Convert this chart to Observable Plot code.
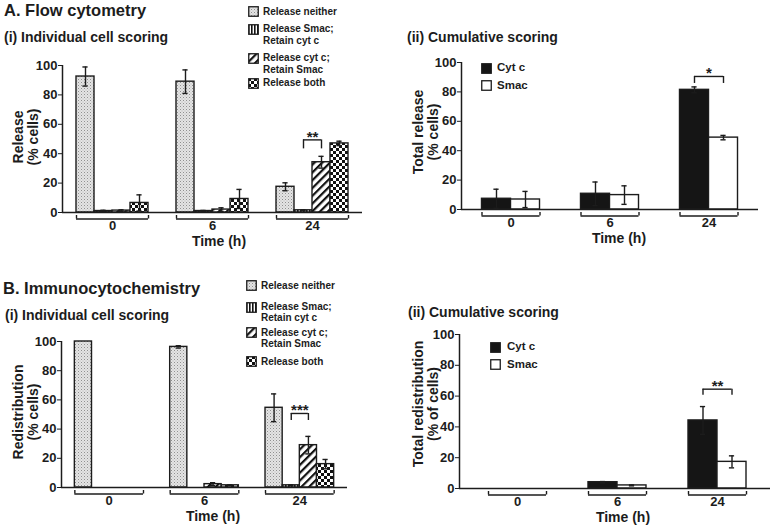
<!DOCTYPE html>
<html><head><meta charset="utf-8">
<script src="https://cdn.jsdelivr.net/npm/d3@7"></script>
<script src="https://cdn.jsdelivr.net/npm/@observablehq/plot@0.6"></script>
<style>
body{margin:0;background:#fff;}
#fig{position:relative;width:773px;height:527px;overflow:hidden;font-family:"Liberation Sans",Arial,sans-serif;font-weight:bold;color:#1c1c1c;}
.t{position:absolute;white-space:nowrap;line-height:1;}
.c{position:absolute;white-space:nowrap;line-height:1;transform:translate(-50%,-50%);}
.l{position:absolute;white-space:nowrap;line-height:1;transform:translate(0,-50%);}
.panel{position:absolute;}
.panel svg{overflow:visible;}
.ylab{position:absolute;transform:translate(-50%,-50%) rotate(-90deg);text-align:center;font-size:14px;line-height:15px;white-space:nowrap;}
.sw{position:absolute;}
</style>
</head><body>
<svg width="0" height="0" style="position:absolute">
<defs>
<pattern id="p-neither" width="3" height="3" patternUnits="userSpaceOnUse">
<rect width="3" height="3" fill="#e4e4e4"/><rect width="1" height="1" fill="#909090"/><rect x="1.5" y="1.5" width="1" height="1" fill="#b4b4b4"/>
</pattern>
<pattern id="p-smac" width="3" height="3" patternUnits="userSpaceOnUse">
<rect width="3" height="3" fill="#fff"/><rect width="1.6" height="3" fill="#111"/>
</pattern>
<pattern id="p-cytc" width="5.5" height="5.5" patternUnits="userSpaceOnUse" patternTransform="rotate(45)">
<rect width="5.5" height="5.5" fill="#fff"/><rect width="2.2" height="5.5" fill="#111"/>
</pattern>
<pattern id="p-both" width="6" height="6" patternUnits="userSpaceOnUse">
<rect width="6" height="6" fill="#fff"/><rect width="3" height="3" fill="#111"/><rect x="3" y="3" width="3" height="3" fill="#111"/>
</pattern>
</defs>
</svg>
<div id="fig"></div>
<script>
// ---- data ----
const times = ["0", "6", "24"];
const yTicks = [0, 20, 40, 60, 80, 100];
const indSeries = ["Release neither", "Release Smac; Retain cyt c", "Release cyt c; Retain Smac", "Release both"];
const cumSeries = ["Cyt c", "Smac"];

// A(i) Flow cytometry, individual cell scoring
const flowNeither = [92.5, 89, 17.5];
const flowNeitherErr = [6.5, 8, 2.7];
const flowSmacOnly = [1.0, 1.0, 1.5];
const flowSmacOnlyErr = [0.5, 0.4, 0.3];
const flowCytcOnly = [1.3, 2.0, 34.2];
const flowCytcOnlyErr = [0.5, 1.2, 4];
const flowBoth = [6.5, 9.2, 47];
const flowBothErr = [5.5, 6.5, 1.5];

// A(ii) Flow cytometry, cumulative scoring
const flowCumCytc = [7.3, 10.7, 81.4];
const flowCumCytcErr = [6.5, 8, 2];
const flowCumSmac = [6.8, 9.8, 48.9];
const flowCumSmacErr = [5.5, 6.3, 1.5];

// B(i) Immunocytochemistry, individual cell scoring
const icNeither = [100, 96.3, 54.6];
const icNeitherErr = [0, 0.8, 9.5];
const icSmacOnly = [0, 0, 1.5];
const icSmacOnlyErr = [0, 0, 0.3];
const icCytcOnly = [0, 2.3, 29];
const icCytcOnlyErr = [0, 1, 6];
const icBoth = [0, 1.5, 16];
const icBothErr = [0, 0.3, 3.2];

// B(ii) Immunocytochemistry, cumulative scoring
const icCumCytc = [0, 4.1, 44.2];
const icCumCytcErr = [0, 0.4, 9];
const icCumSmac = [0, 2, 17.3];
const icCumSmacErr = [0, 0.3, 3.9];

// significance brackets
const sigFlowInd = {i: 2, from: 1, to: 2, y: 49.4, label: "**"};
const sigFlowCum = {i: 2, from: 0, to: 1, y: 90.5, label: "*"};
const sigIcInd = {i: 2, from: 1, to: 2, y: 50.7, label: "***"};
const sigIcCum = {i: 2, from: 0, to: 1, y: 64.5, label: "**"};

const indFills = ["url(#p-neither)", "url(#p-smac)", "url(#p-cytc)", "url(#p-both)"];
const cumFills = ["#151515", "#ffffff"];

const fig = document.getElementById("fig");
const INK = "#1c1c1c";

function buildPanel(cfg) {
  const {left, top, width, height, mt, mr, mb, ml, xDomain, groupW, series, fills, vals, errs, sig, dropPx} = cfg;
  const n = series.length, bw = groupW / n;
  const frameH = height - mt - mb, frameW = width - ml - mr;
  const uy = 100 / frameH;
  const ux = (xDomain[1] - xDomain[0]) / frameW;
  const rows = [];
  series.forEach((s, j) => times.forEach((t, i) => {
    const x1 = i + 0.5 - groupW / 2 + j * bw;
    rows.push({s, j, i, v: vals[j][i], e: errs[j][i], x1, x2: x1 + bw, xc: x1 + bw / 2});
  }));
  const errRows = rows.filter(d => d.e > 0);
  const cap = 2.6 * ux;
  const groups = times.map((t, i) => ({i, a: i + 0.5 - groupW / 2, b: i + 0.5 + groupW / 2}));
  const ends = groups.flatMap(g => [{x: g.a}, {x: g.b}]);
  const brY = -6.5 * uy, brY2 = -3 * uy;
  const xc = (i, j) => i + 0.5 - groupW / 2 + (j + 0.5) * bw;
  const sigRow = {x1: xc(sig.i, sig.from), x2: xc(sig.i, sig.to), y: sig.y, y0: sig.y - dropPx * uy, label: sig.label};
  const marks = [];
  series.forEach((s, j) => {
    marks.push(Plot.rectY(rows.filter(d => d.j === j && d.v > 0), {
      x1: "x1", x2: "x2", y1: 0, y2: "v", fill: fills[j], stroke: INK, strokeWidth: 1.4
    }));
  });
  marks.push(
    Plot.ruleX(errRows, {x: "xc", y1: d => d.v - d.e, y2: d => d.v + d.e, stroke: INK, strokeWidth: 1.4}),
    Plot.ruleY(errRows, {y: d => d.v + d.e, x1: d => d.xc - cap, x2: d => d.xc + cap, stroke: INK, strokeWidth: 1.4}),
    Plot.ruleY(errRows, {y: d => d.v - d.e, x1: d => d.xc - cap, x2: d => d.xc + cap, stroke: INK, strokeWidth: 1.4}),
    Plot.ruleX([xDomain[0]], {y1: 0, y2: 100, stroke: INK, strokeWidth: 1.5}),
    Plot.ruleY([0], {stroke: INK, strokeWidth: 1.5}),
    Plot.ruleY(groups, {y: brY, x1: "a", x2: "b", stroke: INK, strokeWidth: 1.4}),
    Plot.ruleX(ends, {x: "x", y1: brY, y2: brY2, stroke: INK, strokeWidth: 1.4}),
    Plot.ruleY([sigRow], {y: "y", x1: "x1", x2: "x2", stroke: INK, strokeWidth: 1.4}),
    Plot.ruleX([sigRow], {x: "x1", y1: "y0", y2: "y", stroke: INK, strokeWidth: 1.4}),
    Plot.ruleX([sigRow], {x: "x2", y1: "y0", y2: "y", stroke: INK, strokeWidth: 1.4}),
    Plot.text([sigRow], {x: d => (d.x1 + d.x2) / 2, y: "y", text: "label", lineAnchor: "bottom", dy: 2, fontSize: 15, fill: INK})
  );
  const svg = Plot.plot({
    width, height, marginTop: mt, marginRight: mr, marginBottom: mb, marginLeft: ml,
    style: {fontFamily: "'Liberation Sans', Arial, sans-serif", fontSize: "13px", fontWeight: "bold", color: INK, background: "transparent", overflow: "visible"},
    x: {type: "linear", domain: xDomain, ticks: [0.5, 1.5, 2.5], tickFormat: d => times[Math.round(d - 0.5)], tickSize: 0, tickPadding: 8.5, label: null},
    y: {domain: [0, 100], ticks: yTicks, tickSize: 4, tickPadding: 1, label: null},
    marks
  });
  const wrap = document.createElement("div");
  wrap.className = "panel";
  wrap.style.left = left + "px";
  wrap.style.top = top + "px";
  wrap.appendChild(svg);
  fig.appendChild(wrap);
}

buildPanel({left: 0, top: 40, width: 380, height: 215, mt: 25, mr: 18, mb: 43, ml: 62, xDomain: [0, 3], groupW: 0.72,
  series: indSeries, fills: indFills,
  vals: [flowNeither, flowSmacOnly, flowCytcOnly, flowBoth], errs: [flowNeitherErr, flowSmacOnlyErr, flowCytcOnlyErr, flowBothErr],
  sig: sigFlowInd, dropPx: 9});
buildPanel({left: 390, top: 40, width: 383, height: 215, mt: 22, mr: 15, mb: 46, ml: 71, xDomain: [0, 3], groupW: 0.586,
  series: cumSeries, fills: cumFills,
  vals: [flowCumCytc, flowCumSmac], errs: [flowCumCytcErr, flowCumSmacErr],
  sig: sigFlowCum, dropPx: 7});
buildPanel({left: 0, top: 320, width: 380, height: 205, mt: 21, mr: 33, mb: 38, ml: 61, xDomain: [0, 3], groupW: 0.72,
  series: indSeries, fills: indFills,
  vals: [icNeither, icSmacOnly, icCytcOnly, icBoth], errs: [icNeitherErr, icSmacOnlyErr, icCytcOnlyErr, icBothErr],
  sig: sigIcInd, dropPx: 7});
buildPanel({left: 390, top: 320, width: 383, height: 205, mt: 14, mr: 3, mb: 37, ml: 69, xDomain: [-0.08, 3.03], groupW: 0.58,
  series: cumSeries, fills: cumFills,
  vals: [icCumCytc, icCumSmac], errs: [icCumCytcErr, icCumSmacErr],
  sig: sigIcCum, dropPx: 6});

// ---- text ----
function txt(cls, x, y, s, size) {
  const d = document.createElement("div");
  d.className = cls;
  d.style.left = x + "px";
  d.style.top = y + "px";
  d.style.fontSize = size + "px";
  d.textContent = s;
  fig.appendChild(d);
  return d;
}
function ylab(x, y, lines) {
  const d = document.createElement("div");
  d.className = "ylab";
  d.style.left = x + "px";
  d.style.top = y + "px";
  d.innerHTML = lines.map(s => `<div>${s}</div>`).join("");
  fig.appendChild(d);
}
function swatch(x, y, fill) {
  const ns = "http://www.w3.org/2000/svg";
  const s = document.createElementNS(ns, "svg");
  s.setAttribute("class", "sw");
  s.setAttribute("width", 11); s.setAttribute("height", 11);
  s.style.left = x + "px"; s.style.top = y + "px";
  const r = document.createElementNS(ns, "rect");
  r.setAttribute("x", 0.75); r.setAttribute("y", 0.75);
  r.setAttribute("width", 9.5); r.setAttribute("height", 9.5);
  r.setAttribute("fill", fill); r.setAttribute("stroke", INK); r.setAttribute("stroke-width", 1.3);
  s.appendChild(r);
  fig.appendChild(s);
}

// titles
txt("t", 4, 1.7, "A. Flow cytometry", 16.5);
txt("t", 4, 30, "(i) Individual cell scoring", 14);
txt("t", 407, 30, "(ii) Cumulative scoring", 14);
txt("t", 3, 279.5, "B. Immunocytochemistry", 16.5);
txt("t", 5, 308, "(i) Individual cell scoring", 14);
txt("t", 408, 305, "(ii) Cumulative scoring", 14);

// axis titles
txt("c", 219, 241, "Time (h)", 14);
txt("c", 619, 238, "Time (h)", 14);
txt("c", 213, 516, "Time (h)", 14);
txt("c", 623, 517, "Time (h)", 14);
ylab(25.5, 137, ["Release", "(% cells)"]);
ylab(425.5, 132, ["Total release", "(% cells)"]);
ylab(25.5, 412, ["Redistribution", "(% cells)"]);
ylab(425.5, 404, ["Total redistribution", "(% of cells)"]);

// legends, individual scoring
function indLegend(x, tx, sq, lines) {
  swatch(x, sq[0], indFills[0]);
  swatch(x, sq[1], indFills[1]);
  swatch(x, sq[2], indFills[2]);
  swatch(x, sq[3], indFills[3]);
  const labels = [["Release neither"], ["Release Smac;", "Retain cyt c"], ["Release cyt c;", "Retain Smac"], ["Release both"]];
  let k = 0;
  labels.forEach(ls => ls.forEach(s => { txt("l", tx, lines[k++], s, 10); }));
}
indLegend(248, 263, [6, 23.5, 52.5, 77.5], [11.5, 29, 40.5, 58, 69.5, 83]);
indLegend(246, 261, [280, 301.5, 327, 356], [285.5, 307, 318, 332.5, 343.5, 361.5]);

// legends, cumulative scoring
swatch(481, 62.5, cumFills[0]); txt("l", 497, 68, cumSeries[0], 11.5);
swatch(481, 80, cumFills[1]); txt("l", 497, 85.5, cumSeries[1], 11.5);
swatch(490, 341.5, cumFills[0]); txt("l", 507, 347, cumSeries[0], 11.5);
swatch(490, 358.5, cumFills[1]); txt("l", 507, 364.5, cumSeries[1], 11.5);
</script>
</body></html>
